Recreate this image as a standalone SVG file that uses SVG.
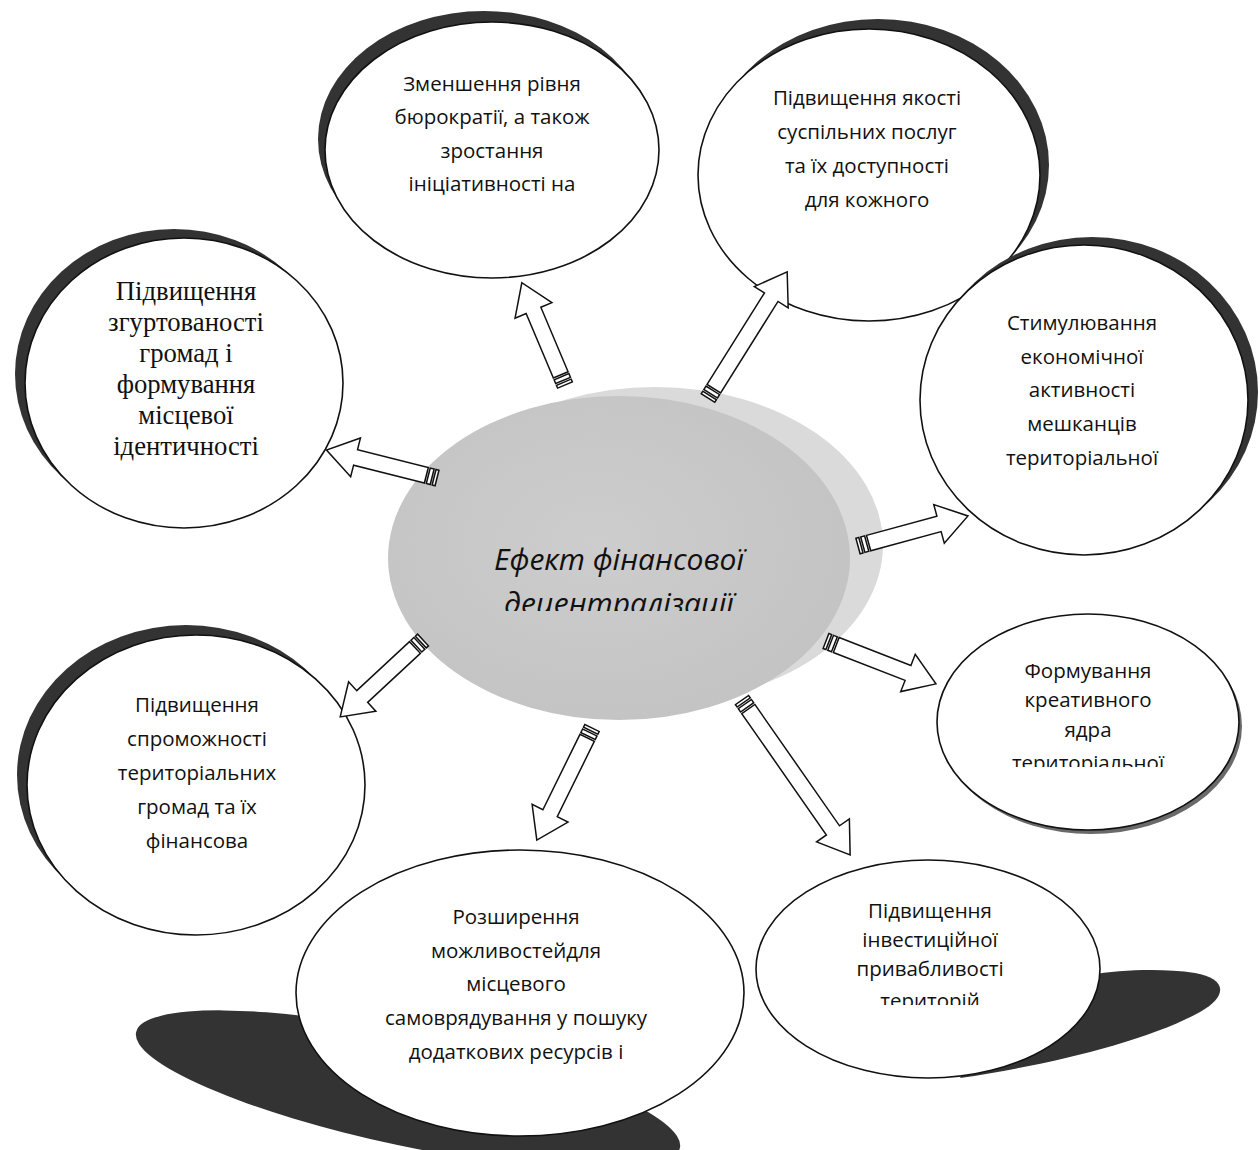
<svg xmlns="http://www.w3.org/2000/svg" width="1260" height="1150" viewBox="0 0 1260 1150">
<style>
.node{fill:#fff;stroke:#111;stroke-width:1.6}
.sh{fill:#333}
.ar{fill:#fff;stroke:#111;stroke-width:1.5;stroke-linejoin:miter}
.t{font-family:"Open Sans","Noto Sans",sans-serif;font-size:20.5px;fill:#111;text-anchor:middle}
.ts{font-family:"Liberation Serif","Times New Roman",serif;font-size:26.7px;fill:#111;text-anchor:middle}
.c{font-family:"Open Sans","Noto Sans",sans-serif;font-size:30px;font-style:italic;fill:#111;text-anchor:middle}
</style>
<defs>
<radialGradient id="face" cx="0.45" cy="0.45" r="0.6">
<stop offset="0" stop-color="#cdcdcd"/>
<stop offset="1" stop-color="#c3c3c3"/>
</radialGradient>
<clipPath id="clipC"><rect x="380" y="380" width="520" height="231"/></clipPath>
<clipPath id="clip5"><rect x="930" y="600" width="320" height="167"/></clipPath>
<clipPath id="clip8"><rect x="750" y="850" width="360" height="155"/></clipPath>
</defs>
<rect width="1260" height="1150" fill="#fff"/>

<g id="center">
<ellipse cx="655" cy="545" rx="228" ry="158" fill="#dadada"/>
<ellipse cx="619" cy="558" rx="231" ry="162" fill="url(#face)"/>
<g clip-path="url(#clipC)">
<text class="c" x="619" y="570">Ефект фінансової</text>
<text class="c" x="619" y="614">децентралізації</text>
</g>
</g>

<g id="node1">
<ellipse class="sh" cx="484" cy="139" rx="166" ry="128"/>
<ellipse class="node" cx="492" cy="150" rx="167" ry="128"/>
<text class="t" x="492" y="91">Зменшення рівня</text>
<text class="t" x="492" y="124">бюрократії, а також</text>
<text class="t" x="492" y="158">зростання</text>
<text class="t" x="492" y="191">ініціативності на</text>
</g>

<g id="node2">
<ellipse class="sh" cx="878" cy="165" rx="171" ry="146"/>
<ellipse class="node" cx="869" cy="175" rx="171" ry="146"/>
<text class="t" x="867" y="105">Підвищення якості</text>
<text class="t" x="867" y="139">суспільних послуг</text>
<text class="t" x="867" y="173">та їх доступності</text>
<text class="t" x="867" y="207">для кожного</text>
</g>

<g id="node3">
<ellipse class="sh" cx="174" cy="374" rx="159" ry="145"/>
<ellipse class="node" cx="184" cy="383" rx="159" ry="145"/>
<text class="ts" x="186" y="300">Підвищення</text>
<text class="ts" x="186" y="331">згуртованості</text>
<text class="ts" x="186" y="362">громад і</text>
<text class="ts" x="186" y="393">формування</text>
<text class="ts" x="186" y="424">місцевої</text>
<text class="ts" x="186" y="455">ідентичності</text>
</g>

<g id="node4">
<ellipse class="sh" cx="1092" cy="392" rx="166" ry="155"/>
<ellipse class="node" cx="1084" cy="400" rx="164" ry="155"/>
<text class="t" x="1082" y="330">Стимулювання</text>
<text class="t" x="1082" y="364">економічної</text>
<text class="t" x="1082" y="397">активності</text>
<text class="t" x="1082" y="431">мешканців</text>
<text class="t" x="1082" y="465">територіальної</text>
</g>

<g id="node5">
<ellipse cx="1091" cy="726" rx="151" ry="108" fill="#6a6a6a"/>
<ellipse class="node" cx="1088" cy="722" rx="151" ry="108"/>
<g clip-path="url(#clip5)">
<text class="t" x="1088" y="678">Формування</text>
<text class="t" x="1088" y="707">креативного</text>
<text class="t" x="1088" y="737">ядра</text>
<text class="t" x="1088" y="770">територіальної</text>
</g>
</g>

<g id="node6">
<ellipse class="sh" cx="186" cy="775" rx="169" ry="150"/>
<ellipse class="node" cx="196" cy="785" rx="169" ry="150"/>
<text class="t" x="197" y="712">Підвищення</text>
<text class="t" x="197" y="746">спроможності</text>
<text class="t" x="197" y="780">територіальних</text>
<text class="t" x="197" y="814">громад та їх</text>
<text class="t" x="197" y="848">фінансова</text>
</g>

<g id="node7">
<ellipse class="sh" cx="408" cy="1090" rx="278" ry="56" transform="rotate(12 408 1090)"/>
<ellipse class="node" cx="520" cy="993" rx="224" ry="143"/>
<text class="t" x="516" y="924">Розширення</text>
<text class="t" x="516" y="958">можливостейдля</text>
<text class="t" x="516" y="991">місцевого</text>
<text class="t" x="516" y="1025">самоврядування у пошуку</text>
<text class="t" x="516" y="1059">додаткових ресурсів і</text>
</g>

<g id="node8">
<path class="sh" d="M960,1078 C1050,1065 1150,1040 1200,1012 C1230,995 1225,978 1195,973 C1160,968 1120,970 1090,975 L1000,1000 Z"/>
<ellipse class="node" cx="928" cy="969" rx="172" ry="109"/>
<g clip-path="url(#clip8)">
<text class="t" x="930" y="918">Підвищення</text>
<text class="t" x="930" y="947">інвестиційної</text>
<text class="t" x="930" y="976">привабливості</text>
<text class="t" x="930" y="1008">територій</text>
</g>
</g>

<g id="connectors">
<g transform="translate(565 385) rotate(-112.9)">
<rect class="ar" x="0" y="-8" width="3" height="16"/><rect class="ar" x="5" y="-8" width="4" height="16"/>
<path class="ar" d="M11,-8 H81 V-20 L111,0 L81,20 V8 H11 Z"/>
</g>
<g transform="translate(708 398) rotate(-57.9)">
<rect class="ar" x="0" y="-8" width="3" height="16"/><rect class="ar" x="5" y="-8" width="4" height="16"/>
<path class="ar" d="M11,-8 H119 V-20 L149,0 L119,20 V8 H11 Z"/>
</g>
<g transform="translate(437 478) rotate(194.2)">
<rect class="ar" x="0" y="-8" width="3" height="16"/><rect class="ar" x="5" y="-8" width="4" height="16"/>
<path class="ar" d="M11,-8 H84 V-20 L114,0 L84,20 V8 H11 Z"/>
</g>
<g transform="translate(858 546) rotate(-15.3)">
<rect class="ar" x="0" y="-8" width="3" height="16"/><rect class="ar" x="5" y="-8" width="4" height="16"/>
<path class="ar" d="M11,-8 H84 V-20 L114,0 L84,20 V8 H11 Z"/>
</g>
<g transform="translate(826 641) rotate(21.3)">
<rect class="ar" x="0" y="-8" width="3" height="16"/><rect class="ar" x="5" y="-8" width="4" height="16"/>
<path class="ar" d="M11,-8 H88 V-20 L118,0 L88,20 V8 H11 Z"/>
</g>
<g transform="translate(423 640) rotate(137.1)">
<rect class="ar" x="0" y="-8" width="3" height="16"/><rect class="ar" x="5" y="-8" width="4" height="16"/>
<path class="ar" d="M11,-8 H83 V-20 L113,0 L83,20 V8 H11 Z"/>
</g>
<g transform="translate(592 728) rotate(116.2)">
<rect class="ar" x="0" y="-8" width="3" height="16"/><rect class="ar" x="5" y="-8" width="4" height="16"/>
<path class="ar" d="M11,-8 H95 V-20 L125,0 L95,20 V8 H11 Z"/>
</g>
<g transform="translate(742 700) rotate(55.1)">
<rect class="ar" x="0" y="-8" width="3" height="16"/><rect class="ar" x="5" y="-8" width="4" height="16"/>
<path class="ar" d="M11,-8 H159 V-20 L189,0 L159,20 V8 H11 Z"/>
</g>
</g>
</svg>
